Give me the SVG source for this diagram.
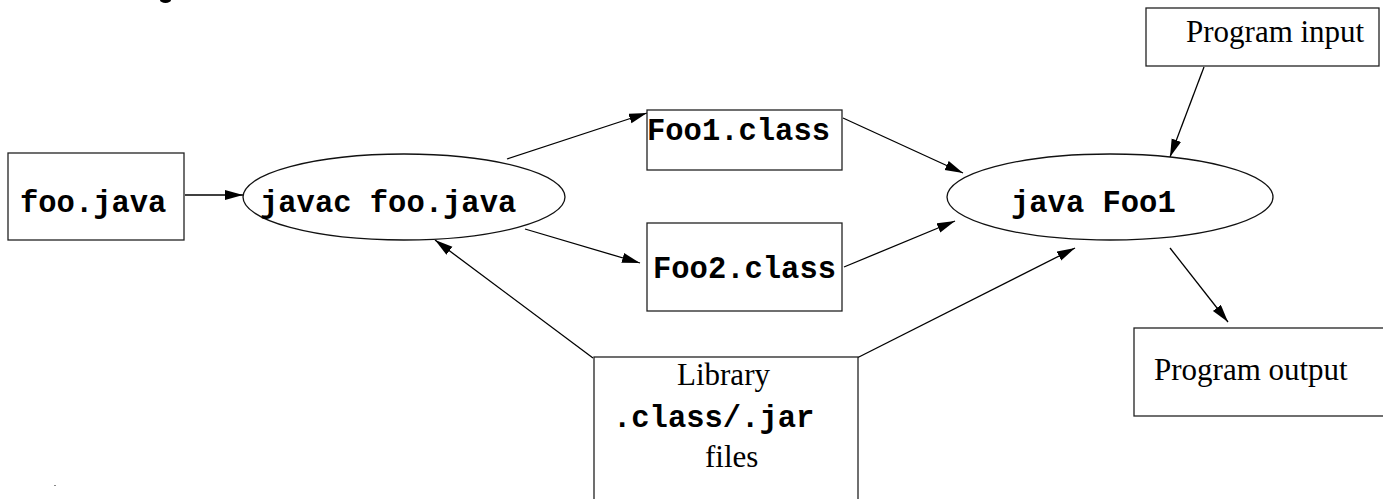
<svg xmlns="http://www.w3.org/2000/svg" width="1383" height="499" viewBox="0 0 1383 499">
  <style>
    .box { fill: #fff; stroke: #222; stroke-width: 1.3; }
    .oval { fill: #fff; stroke: #111; stroke-width: 1.3; }
    .code { font-family: "Liberation Mono", "Courier New", monospace; font-weight: bold; font-size: 30.5px; fill: #000; }
    .label { font-family: "Liberation Serif", "Times New Roman", serif; font-size: 31px; fill: #000; }
    .edge { stroke: #000; stroke-width: 1.3; fill: none; marker-end: url(#arrow); }
  </style>
  <defs>
    <marker id="arrow" markerUnits="userSpaceOnUse" markerWidth="20" markerHeight="12" refX="18" refY="5" orient="auto">
      <path d="M0,0 L18,5 L0,10 z" fill="#000"/>
    </marker>
  </defs>
  <rect width="1383" height="499" fill="#fff"/>

  <!-- clipped mark at top edge -->
  <ellipse cx="165.5" cy="0" rx="5.5" ry="3" fill="#000"/>
  <rect x="54" y="485" width="2" height="1" fill="#888"/>

  <g id="connectors">
    <line class="edge" x1="185" y1="195" x2="243" y2="195"/>
    <line class="edge" x1="507" y1="159" x2="647" y2="113"/>
    <line class="edge" x1="525" y1="229" x2="640" y2="263"/>
    <line class="edge" x1="843" y1="118" x2="963" y2="173"/>
    <line class="edge" x1="844" y1="267" x2="955" y2="221"/>
    <line class="edge" x1="593" y1="358" x2="435" y2="240"/>
    <line class="edge" x1="847" y1="363" x2="1075" y2="248"/>
    <line class="edge" x1="1204" y1="67" x2="1170" y2="157"/>
    <line class="edge" x1="1170" y1="248" x2="1228" y2="322"/>
  </g>

  <g id="foo-java">
    <rect class="box" x="8" y="153" width="176" height="87"/>
    <text class="code" x="20" y="212">foo.java</text>
  </g>

  <g id="javac">
    <ellipse class="oval" cx="404" cy="197" rx="161" ry="43"/>
    <text class="code" x="260" y="212">javac foo.java</text>
  </g>

  <g id="foo1-class">
    <rect class="box" x="647" y="110" width="195" height="60"/>
    <text class="code" x="647" y="140">Foo1.class</text>
  </g>

  <g id="foo2-class">
    <rect class="box" x="647" y="223" width="195" height="88"/>
    <text class="code" x="653" y="278">Foo2.class</text>
  </g>

  <g id="java-foo1">
    <ellipse class="oval" cx="1110" cy="197" rx="163" ry="43"/>
    <text class="code" x="1011" y="212">java Foo1</text>
  </g>

  <g id="program-input">
    <rect class="box" x="1146" y="8" width="233" height="58"/>
    <text class="label" x="1186" y="42">Program input</text>
  </g>

  <g id="program-output">
    <rect class="box" x="1134" y="328" width="252" height="88"/>
    <text class="label" x="1154" y="380">Program output</text>
  </g>

  <g id="library">
    <rect class="box" x="594" y="357" width="264" height="150"/>
    <text class="label" x="677" y="385">Library</text>
    <text class="code" x="613" y="427">.class/.jar</text>
    <text class="label" x="705" y="467">files</text>
  </g>
</svg>
